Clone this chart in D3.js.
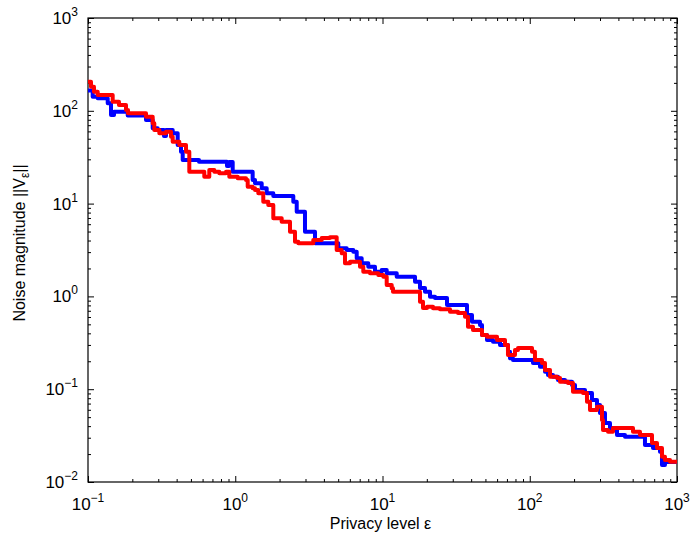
<!DOCTYPE html>
<html>
<head>
<meta charset="utf-8">
<script src="https://cdn.jsdelivr.net/npm/d3@7/dist/d3.min.js"></script>
<style>
  body { margin: 0; background: #fff; }
  text { font-family: "Liberation Sans", Arial, Helvetica, sans-serif; fill: #000; }
</style>
</head>
<body>
<div id="chart"></div>
<script>
// values (step curves, value holds until next epsilon)
const blueEps = [0.1, 0.1076, 0.1164, 0.1361, 0.1433, 0.1502, 0.1861, 0.2477, 0.275, 0.2973, 0.3281, 0.3386, 0.376, 0.4065, 0.4281, 0.4397, 0.5673, 0.879, 0.907, 0.9609, 1.313, 1.362, 1.512, 1.635, 1.813, 2.479, 2.615, 2.976, 3.48, 5.01, 5.713, 6.334, 6.681, 7.221, 8.008, 8.892, 9.874, 10.68, 12.49, 16.63, 17.97, 19.44, 21.02, 22.73, 27.42, 37.48, 40.53, 45.93, 47.39, 51.24, 56.29, 62.8, 71.15, 73.41, 76.93, 105.2, 117.4, 126.9, 133, 143.8, 155.5, 173.5, 193.6, 202.9, 237.2, 264.6, 286.2, 299.9, 324.3, 350.6, 391.3, 443.4, 606, 687, 766.3, 790.7, 828.5, 1000];
const blueNoise = [165, 141.9, 136.3, 120.4, 90.1, 97.8, 89.0, 79.6, 64.8, 62.1, 53.5, 62.1, 57.2, 42.8, 36.2, 29.5, 28.3, 25.4, 28.1, 22.1, 17.96, 16.55, 14.61, 12.91, 12.08, 10.48, 8.18, 4.98, 3.73, 3.30, 3.16, 3.03, 2.573, 2.273, 2.089, 1.845, 1.925, 1.774, 1.630, 1.440, 1.232, 1.124, 0.992, 0.961, 0.808, 0.630, 0.534, 0.4916, 0.3837, 0.3389, 0.3249, 0.2994, 0.2535, 0.2153, 0.2064, 0.1916, 0.1748, 0.1544, 0.1422, 0.1363, 0.1256, 0.1204, 0.1110, 0.0982, 0.0910, 0.0765, 0.0676, 0.0554, 0.0432, 0.0382, 0.0321, 0.0308, 0.0250, 0.0232, 0.0212, 0.01524, 0.01642, 0.01642];

const redEps = [0.1, 0.1048, 0.1098, 0.1164, 0.1471, 0.1623, 0.1812, 0.1869, 0.2477, 0.275, 0.282, 0.305, 0.3386, 0.3662, 0.376, 0.4169, 0.463, 0.4875, 0.6163, 0.6664, 0.7206, 0.7793, 0.8654, 0.9113, 1.039, 1.183, 1.215, 1.313, 1.362, 1.434, 1.55, 1.676, 1.813, 2.067, 2.354, 2.545, 2.681, 3.388, 3.865, 4.399, 4.885, 5.283, 5.563, 6.017, 7.035, 7.406, 8.224, 9.365, 10.13, 10.68, 11.55, 11.78, 17.97, 18.84, 20.06, 22.03, 24.57, 28.73, 32.56, 36.32, 38.07, 41.17, 47.39, 51.24, 59.93, 67.91, 71.15, 79.38, 83.23, 103.6, 108.5, 121.1, 126.9, 137.3, 153.1, 160.5, 181.8, 196.6, 229.9, 244.7, 256.5, 286.2, 309.4, 314.3, 340, 367.6, 502.5, 560.6, 676.5, 731.4, 790.7, 828.5, 896.6, 1000];
const redNoise = [205.9, 181.8, 160.6, 148, 125.3, 115.5, 102, 93.97, 86.4, 73.3, 62.1, 57.2, 59.5, 52.6, 46.45, 42.8, 36.2, 22.1, 19.49, 23, 22.1, 21.2, 22.1, 19.49, 18.73, 17.96, 15.21, 14.61, 14.01, 12.91, 10.48, 9.66, 6.94, 6.38, 4.98, 3.885, 3.73, 4.054, 4.26, 4.334, 3.16, 2.912, 2.273, 2.365, 2.089, 1.845, 1.774, 1.701, 1.63, 1.327, 1.223, 1.124, 0.877, 0.75, 0.774, 0.744, 0.726, 0.684, 0.662, 0.604, 0.4714, 0.4344, 0.3837, 0.3679, 0.3389, 0.2994, 0.2336, 0.2646, 0.278, 0.2535, 0.2064, 0.1916, 0.161, 0.1363, 0.132, 0.1204, 0.1166, 0.094, 0.091, 0.0733, 0.0597, 0.0648, 0.0466, 0.0363, 0.0348, 0.0382, 0.0348, 0.0321, 0.0263, 0.0232, 0.01874, 0.01726, 0.01655, 0.01655];

const xDecades = [0.1, 1, 10, 100, 1000];
const xExponents = ["\u22121", "0", "1", "2", "3"];
const yDecades = [0.01, 0.1, 1, 10, 100, 1000];
const yExponents = ["\u22122", "\u22121", "0", "1", "2", "3"];

const width = 691, height = 539;
const margin = { top: 18, right: 14, bottom: 57, left: 88 };
const w = width - margin.left - margin.right;
const h = height - margin.top - margin.bottom;

const x = d3.scaleLog().domain([0.1, 1000]).range([0, w]);
const y = d3.scaleLog().domain([0.01, 1000]).range([h, 0]);

// every 1..9 multiple inside the domain, for the minor ticks
const minorOf = decades => decades.slice(0, -1).flatMap(d => d3.range(2, 10).map(k => d * k));
const xAll = xDecades.concat(minorOf(xDecades));
const yAll = yDecades.concat(minorOf(yDecades));
const isMajor = (list, v) => list.some(d => Math.abs(d - v) / d < 1e-9);

const svg = d3.select("#chart").append("svg")
  .attr("width", width).attr("height", height);

const g = svg.append("g").attr("transform", `translate(${margin.left},${margin.top})`);

g.append("clipPath").attr("id", "plotclip")
  .append("rect").attr("width", w).attr("height", h);

// ticks pointing inwards on all four sides
const tickLen = (list, v) => isMajor(list, v) ? 6 : 3;
const drawAxis = (axis, tr, list, sign) => {
  const a = g.append("g").attr("transform", tr)
    .call(axis.tickValues(list === xDecades ? xAll : yAll).tickFormat("").tickSizeOuter(0));
  a.select(".domain").remove();
  a.selectAll(".tick line").attr("stroke", "#000").attr("stroke-width", 1)
    .each(function(d) {
      const len = sign * tickLen(list, d);
      const ln = d3.select(this);
      if (ln.attr("x2") !== null && +ln.attr("x2") !== 0) ln.attr("x2", len);
      else ln.attr("y2", len);
    });
};
drawAxis(d3.axisBottom(x).tickSizeInner(-6), `translate(0,${h})`, xDecades, -1);
drawAxis(d3.axisTop(x).tickSizeInner(-6), "translate(0,0)", xDecades, 1);
drawAxis(d3.axisLeft(y).tickSizeInner(-6), "translate(0,0)", yDecades, 1);
drawAxis(d3.axisRight(y).tickSizeInner(-6), `translate(${w},0)`, yDecades, -1);

g.append("rect").attr("width", w).attr("height", h)
  .attr("fill", "none").attr("stroke", "#000").attr("stroke-width", 1.2);

// tick labels as 10 with a superscript exponent
xDecades.forEach((d, i) => {
  const t = g.append("text").attr("x", x(d)).attr("y", h + 28)
    .attr("text-anchor", "middle").style("font-size", "17px");
  t.append("tspan").text("10");
  t.append("tspan").attr("dy", -8).style("font-size", "12px").text(xExponents[i]);
});
yDecades.forEach((d, i) => {
  const t = g.append("text").attr("x", -10).attr("y", y(d) + 6)
    .attr("text-anchor", "end").style("font-size", "17px");
  t.append("tspan").text("10");
  t.append("tspan").attr("dy", -8).style("font-size", "12px").text(yExponents[i]);
});

// lines
const line = d3.line().curve(d3.curveStepAfter).x(d => x(d[0])).y(d => y(d[1]));
const lines = g.append("g").attr("clip-path", "url(#plotclip)");
[[blueEps, blueNoise, "#0000ff"], [redEps, redNoise, "#ff0000"]].forEach(([xs, ys, c]) => {
  lines.append("path").datum(xs.map((v, i) => [v, ys[i]]))
    .attr("fill", "none").attr("stroke", c).attr("stroke-width", 4)
    .attr("stroke-linejoin", "round").attr("d", line);
});

// axis titles
svg.append("text").attr("x", margin.left + w / 2 - 2).attr("y", 529)
  .attr("text-anchor", "middle").style("font-size", "16px")
  .text("Privacy level \u03b5");

const yl = svg.append("text").attr("transform", "translate(25,243) rotate(-90)")
  .attr("text-anchor", "middle").style("font-size", "16px");
yl.append("tspan").text("Noise magnitude ||V");
yl.append("tspan").attr("dy", 4).style("font-size", "12px").text("\u03b5");
yl.append("tspan").attr("dy", -4).text("||");
</script>
</body>
</html>
